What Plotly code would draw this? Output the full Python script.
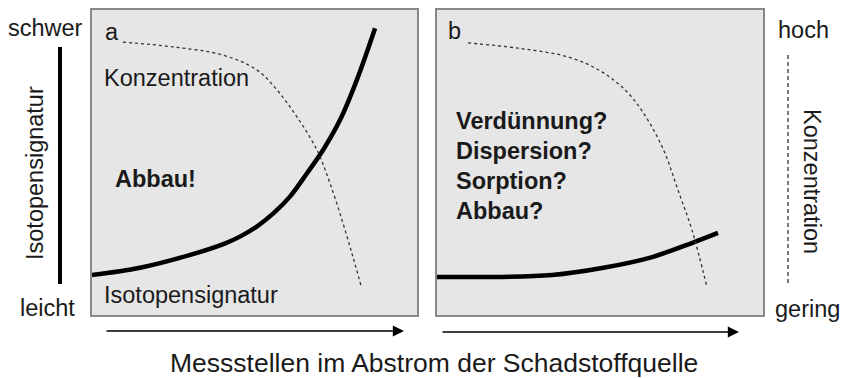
import plotly.graph_objects as go

W, H = 841, 378

# Panel a: Isotopensignatur steigt stark an (Abbau), Konzentration faellt
a_iso_x = [0, 14.8, 30.2, 41.0, 45.5, 50.7, 55.8, 60.9, 66.1, 71.1, 76.3, 81.5, 87.1]
a_iso_y = [13.1, 15.5, 19.7, 23.5, 25.7, 29.0, 33.3, 38.8, 46.4, 54.1, 63.9, 77.1, 94.0]
a_konz_x = [9.5, 24.9, 40.3, 50.8, 56.9, 63.1, 69.2, 73.2, 77.2, 80.3, 82.8]
a_konz_y = [89.5, 87.9, 85.2, 80.3, 73.8, 64.9, 54.1, 43.3, 30.2, 19.0, 9.5]

# Panel b: Isotopensignatur steigt kaum, Konzentration faellt
b_iso_x = [0, 19.9, 35.3, 50.6, 66.0, 78.2, 86.2]
b_iso_y = [12.5, 12.5, 13.1, 15.4, 19.0, 23.6, 26.9]
b_konz_x = [9.5, 24.8, 40.2, 50.6, 58.6, 64.7, 69.9, 73.9, 78.2, 82.8]
b_konz_y = [89.2, 87.5, 84.6, 79.7, 72.8, 63.9, 53.1, 41.0, 27.9, 9.2]

b_fragen = ["Verdünnung?", "Dispersion?", "Sorption?", "Abbau?"]

FONT = "Liberation Sans, Arial, sans-serif"


# pixel positions measured on the 841x378 picture -> paper coords
def px(x):
    return x / W


def py(y):
    return 1 - y / H


fig = go.Figure()

solid = dict(color="black", width=4.5)
dashed = dict(color="#333333", width=1.3, dash="3px,3px")

fig.add_trace(go.Scatter(x=a_iso_x, y=a_iso_y, mode="lines", line=solid,
                         line_shape="spline", xaxis="x", yaxis="y"))
fig.add_trace(go.Scatter(x=a_konz_x, y=a_konz_y, mode="lines", line=dashed,
                         line_shape="spline", xaxis="x", yaxis="y"))
fig.add_trace(go.Scatter(x=b_iso_x, y=b_iso_y, mode="lines", line=solid,
                         line_shape="spline", xaxis="x2", yaxis="y2"))
fig.add_trace(go.Scatter(x=b_konz_x, y=b_konz_y, mode="lines", line=dashed,
                         line_shape="spline", xaxis="x2", yaxis="y2"))

ax_style = dict(range=[0, 100], showgrid=False, zeroline=False, showticklabels=False,
                ticks="", showline=True, mirror=True, linecolor="#888888", linewidth=1.5,
                fixedrange=True)

fig.update_layout(
    width=W, height=H,
    margin=dict(l=0, r=0, t=0, b=0),
    paper_bgcolor="white",
    plot_bgcolor="#e6e6e6",
    showlegend=False,
    font=dict(family=FONT, color="#1a1a1a"),
    xaxis=dict(domain=[px(92), px(417)], anchor="y", **ax_style),
    yaxis=dict(domain=[py(315), py(10)], anchor="x", **ax_style),
    xaxis2=dict(domain=[px(437), px(763)], anchor="y2", **ax_style),
    yaxis2=dict(domain=[py(315), py(10)], anchor="x2", **ax_style),
)

# linke Skala: durchgezogene Linie, rechte Skala: gestrichelte Linie
fig.add_shape(type="line", xref="paper", yref="paper", x0=px(60), x1=px(60),
              y0=py(47), y1=py(284), line=dict(color="black", width=4))
fig.add_shape(type="line", xref="paper", yref="paper", x0=px(788), x1=px(788),
              y0=py(55), y1=py(285), line=dict(color="#333333", width=1.3, dash="4px,3px"))

anns = []


def txt(text, x, y, size=23.5, xanchor="center", bold=False, angle=0):
    if bold:
        text = "<b>" + text + "</b>"
    anns.append(dict(text=text, x=px(x), y=py(y), xref="paper", yref="paper",
                     showarrow=False, xanchor=xanchor, yanchor="middle",
                     textangle=angle, font=dict(size=size, family=FONT, color="#1a1a1a")))


txt("schwer", 45, 28)
txt("leicht", 47, 308)
txt("hoch", 803, 30)
txt("gering", 807, 309)
txt("Isotopensignatur", 35, 173, angle=-90)
txt("Konzentration", 812, 181, angle=90)

txt("a", 103, 32, xanchor="left")
txt("Konzentration", 102, 78, xanchor="left")
txt("Isotopensignatur", 102, 295, xanchor="left")
txt("Abbau!", 113, 179, xanchor="left", bold=True)

txt("b", 446, 31, xanchor="left")
for i, s in enumerate(b_fragen):
    txt(s, 454, 121 + i * 30, xanchor="left", bold=True)

txt("Messstellen im Abstrom der Schadstoffquelle", 434, 363, size=26.5)

# Pfeile unter den Panels
for x0, x1, y in [(105, 404, 331), (441, 739, 332)]:
    anns.append(dict(x=px(x1), y=py(y), xref="paper", yref="paper",
                     ax=x0 - x1, ay=0, axref="pixel", ayref="pixel",
                     showarrow=True, arrowhead=2, arrowsize=1.4, arrowwidth=1.6,
                     arrowcolor="black", text=""))

fig.update_layout(annotations=anns)

# ohne body-Rand, sonst ist alles um 8px verschoben und rechts abgeschnitten
fig.write_html("out.html", config={"displayModeBar": False},
               post_script="document.body.style.margin='0px';")
